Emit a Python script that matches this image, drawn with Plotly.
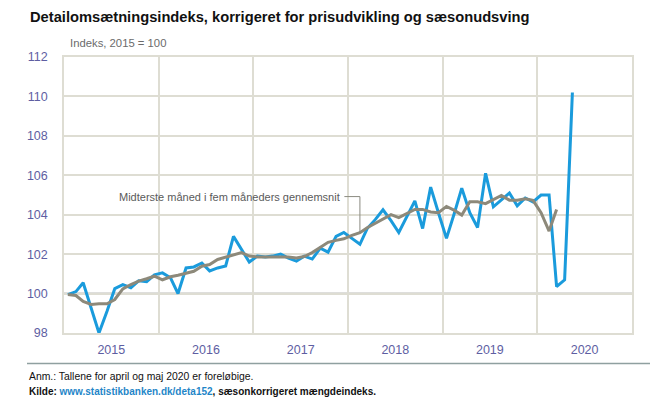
import pandas as pd
import plotly.graph_objects as go

# Monthly index values, Jan 2015 - May 2020
blue_vals = [99.95, 100.1, 100.55, 99.3, 98.0, 99.1, 100.25, 100.45, 100.3, 100.65, 100.6, 100.95,
             101.05, 100.8, 100.0, 101.3, 101.35, 101.55, 101.15, 101.3, 101.4, 102.9, 102.25, 101.6,
             101.9, 101.85, 101.9, 102.0, 101.8, 101.65, 101.9, 101.75, 102.3, 102.1, 102.9, 103.1,
             102.8, 102.5, 103.3, 103.75, 104.25, 103.7, 103.1, 103.9, 104.7, 103.3, 105.4, 104.1,
             102.8, 104.1, 105.35, 104.1, 103.35, 106.1, 104.4, 104.75, 105.1, 104.45, 104.85, 104.65,
             105.0, 105.0, 100.35, 100.7, 110.2]
# Five-month centred average, Jan 2015 - Mar 2020
gray_vals = [99.95, 99.9, 99.6, 99.45, 99.48, 99.48, 99.7, 100.24, 100.46, 100.63, 100.75, 100.88,
             100.7, 100.85, 100.93, 101.05, 101.13, 101.39, 101.47, 101.73, 101.86, 101.98, 102.08, 101.9,
             101.86, 101.86, 101.86, 101.88, 101.85, 101.8, 101.88, 102.08, 102.34, 102.6, 102.7, 102.78,
             102.95, 103.09, 103.34, 103.56, 103.8, 104.0, 103.85, 104.07, 104.27, 104.27, 104.14, 104.1,
             104.42, 104.22, 103.98, 104.66, 104.66, 104.56, 104.78, 104.98, 104.74, 104.74, 104.81, 104.73,
             104.1, 103.17, 104.27]
months = pd.date_range("2015-01-01", periods=len(blue_vals), freq="MS") + pd.Timedelta(days=15)
gray_months = months[:len(gray_vals)]
y_ticks = [98, 100, 102, 104, 106, 108, 110, 112]

BLUE = "#1A9BDC"
GRAY = "#8D897A"
GRID = "#DEDDD3"
TICK = "#5E5EA2"
SANS = "Liberation Sans, Arial, sans-serif"
NARROW = "Liberation Sans Narrow, Arial Narrow, Liberation Sans, Arial, sans-serif"

# page has an 8px body margin; figure is sized to fit inside the window
OFF = 8
W, H = 657, 391
L, T, PW, PH = 56, 49, 568, 276
R, B = W - L - PW, H - T - PH


def px(X):
    return (X - OFF - L) / PW


def py(Y):
    return 1 - (Y - OFF - T) / PH


fig = go.Figure()
fig.add_trace(go.Scatter(x=months, y=blue_vals, mode="lines",
                         line=dict(color=BLUE, width=3), hoverinfo="skip"))
fig.add_trace(go.Scatter(x=gray_months, y=gray_vals, mode="lines",
                         line=dict(color=GRAY, width=3), hoverinfo="skip"))

# reference line at 100
fig.add_shape(type="line", xref="x domain", yref="y", x0=0, x1=1, y0=100, y1=100,
              line=dict(color="#7E7E74", width=1.5), layer="below")

# annotation with elbow leader
k = 37
lab_y = 104.92
lab_x = months[35] + pd.Timedelta(days=2)
fig.add_annotation(x=lab_x, y=lab_y, xref="x", yref="y", text="Midterste måned i fem måneders gennemsnit",
                   showarrow=False, xanchor="right", yanchor="middle", xshift=-2,
                   font=dict(family=NARROW, size=11, color="#5A5A5A"))
fig.add_shape(type="line", xref="x", yref="y", x0=lab_x, x1=gray_months[k], y0=lab_y, y1=lab_y,
              line=dict(color="#8A8A80", width=1))
fig.add_shape(type="line", xref="x", yref="y", x0=gray_months[k], x1=gray_months[k], y0=lab_y, y1=gray_vals[k],
              line=dict(color="#8A8A80", width=1))

# title, unit, footer
fig.add_annotation(xref="paper", yref="paper", x=px(28), y=py(17), xanchor="left", yanchor="middle",
                   text="<b>Detailomsætningsindeks, korrigeret for prisudvikling og sæsonudsving</b>",
                   showarrow=False, font=dict(family=SANS, size=14.7, color="#111111"))
fig.add_annotation(xref="paper", yref="paper", x=px(68), y=py(43), xanchor="left", yanchor="middle",
                   text="Indeks, 2015 = 100", showarrow=False,
                   font=dict(family=NARROW, size=11.3, color="#6B6B6B"))
fig.add_shape(type="line", xref="paper", yref="paper", x0=px(27), x1=px(650), y0=py(363.5), y1=py(363.5),
              line=dict(color="#8FA0A0", width=1.5))
fig.add_annotation(xref="paper", yref="paper", x=px(27), y=py(376), xanchor="left", yanchor="middle",
                   text="Anm.: Tallene for april og maj 2020 er foreløbige.", showarrow=False,
                   font=dict(family=SANS, size=10.4, color="#111111"))
fig.add_annotation(xref="paper", yref="paper", x=px(27), y=py(391), xanchor="left", yanchor="middle",
                   text="<b>Kilde: <span style='color:#1F86C8'>www.statistikbanken.dk/deta152</span>, sæsonkorrigeret mængdeindeks.</b>",
                   showarrow=False,
                   font=dict(family=SANS, size=10, color="#111111"))

fig.update_layout(
    width=W, height=H,
    margin=dict(l=L, r=R, t=T, b=B),
    paper_bgcolor="white", plot_bgcolor="white",
    showlegend=False,
)
fig.update_xaxes(type="date", range=["2015-01-01", "2021-01-01"], dtick="M12", tick0="2015-01-01",
                 ticklabelmode="period", tickformat="%Y", showgrid=True, gridcolor=GRID, gridwidth=1.5,
                 showline=True, mirror=True, linecolor=GRID, linewidth=1.5, ticks="",
                 ticklabelstandoff=4,
                 tickfont=dict(family=NARROW, size=12.5, color=TICK), fixedrange=True)
fig.update_yaxes(range=[98, 112], tickvals=y_ticks, showgrid=True, gridcolor=GRID, gridwidth=1.5,
                 showline=True, mirror=True, linecolor=GRID, linewidth=1.5, ticks="", zeroline=False,
                 ticklabelstandoff=12,
                 tickfont=dict(family=NARROW, size=12.5, color=TICK), fixedrange=True)

fig.write_html("out.html")
